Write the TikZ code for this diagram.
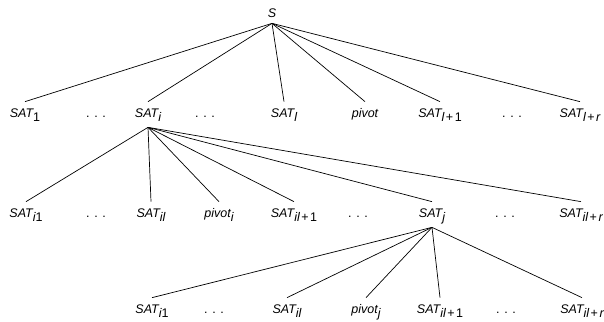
\documentclass[tikz,border=0pt]{standalone}
\usepackage{fontspec}
\setmainfont{Liberation Sans}
\newcommand{\satsub}[1]{\textit{SAT}\raisebox{-4.5pt}{#1}}
\newcommand{\pivsub}[1]{\textit{pivot}\raisebox{-4.5pt}{#1}}
\newcommand{\plus}{\hspace{0.12em}+\hspace{0.12em}}
\begin{document}
\begin{tikzpicture}[
     x=1pt,y=-1pt,
     lab/.style={anchor=base,font=\itshape\fontsize{12.5}{14}\selectfont,
       text height=9pt,text depth=4pt,inner xsep=0pt,inner ysep=6pt},
     dots/.style={anchor=base,font=\fontsize{12.5}{14}\selectfont,inner sep=0pt},
     every path/.style={line width=0.7pt}
   ]
   \path[use as bounding box] (0,0) rectangle (604,321);
   % Root.
   \node[lab,text depth=0pt,inner ysep=5pt] (S) at (272,18) {S};
   % First level.
   \node[lab] (sat1) at (25,117) {\satsub{\upshape 1}};
   \node[dots] (d11) at (96,117) {. . .};
   \node[lab] (sati) at (148,117) {\satsub{i}};
   \node[dots] (d12) at (205,117) {. . .};
   \node[lab] (satl) at (284,117) {\satsub{l}};
   \node[lab] (piv) at (365,117) {pivot};
   \node[lab] (satla) at (440,117) {\satsub{l{\upshape\plus 1}}};
   \node[dots] (d13) at (512,117) {. . .};
   \node[lab] (satlr) at (580,117) {\satsub{l{\upshape\plus}r}};
   \draw (S.south) -- (sat1.north);
   \draw (S.south) -- (sati.north);
   \draw (S.south) -- (satl.north);
   \draw (S.south) -- (piv.north);
   \draw (S.south) -- (satla.north);
   \draw (S.south) -- (satlr.north);
   % Second level, below SAT_i.
   \node[lab] (sati1) at (26,217) {\satsub{i{\upshape 1}}};
   \node[dots] (d21) at (96,217) {. . .};
   \node[lab] (satil) at (151,217) {\satsub{il}};
   \node[lab] (pivi) at (219,217) {\pivsub{i}};
   \node[lab] (satila) at (294,217) {\satsub{il{\upshape\plus 1}}};
   \node[dots] (d22) at (358,217) {. . .};
   \node[lab] (satj) at (432,217) {\satsub{j}};
   \node[dots] (d23) at (505,217) {. . .};
   \node[lab] (satilr) at (581,217) {\satsub{il{\upshape\plus}r}};
   \draw (sati.south) -- (sati1.north);
   \draw (sati.south) -- (satil.north);
   \draw (sati.south) -- (pivi.north);
   \draw (sati.south) -- (satila.north);
   \draw (sati.south) -- (satj.north);
   \draw (sati.south) -- (satilr.north);
   % Third level, below SAT_j.
   \node[lab] (satji1) at (152,313) {\satsub{i{\upshape 1}}};
   \node[dots] (d31) at (214,313) {. . .};
   \node[lab] (satjil) at (287,313) {\satsub{il}};
   \node[lab] (pivj) at (366,313) {\pivsub{j}};
   \node[lab] (satjila) at (440,313) {\satsub{il{\upshape\plus 1}}};
   \node[dots] (d32) at (506,313) {. . .};
   \node[lab] (satjilr) at (582,313) {\satsub{il{\upshape\plus}r}};
   \draw (satj.south) -- (satji1.north);
   \draw (satj.south) -- (satjil.north);
   \draw (satj.south) -- (pivj.north);
   \draw (satj.south) -- (satjila.north);
   \draw (satj.south) -- (satjilr.north);
 \end{tikzpicture}
\end{document}
